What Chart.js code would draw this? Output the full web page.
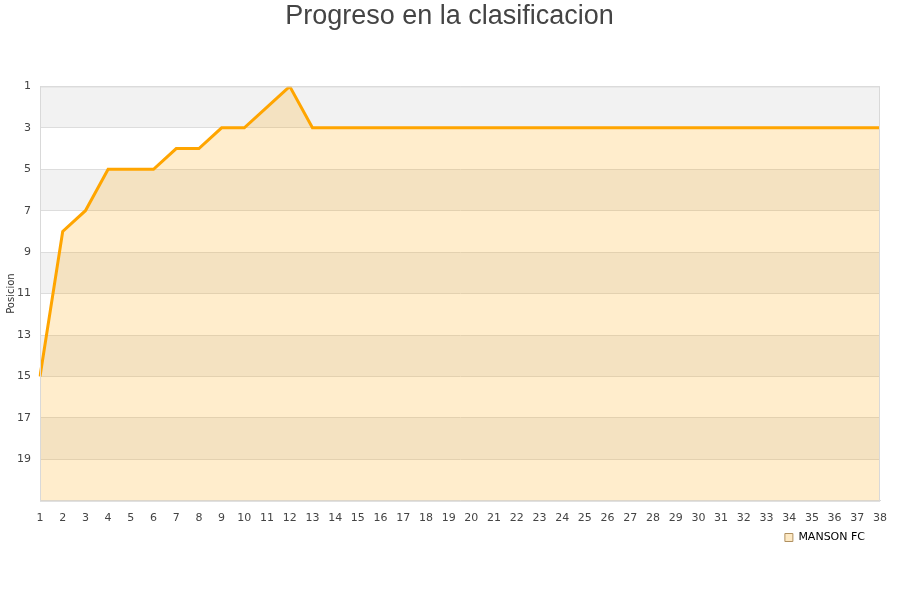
<!DOCTYPE html>
<html>
<head>
<meta charset="utf-8">
<script src="https://cdn.jsdelivr.net/npm/chart.js@4"></script>
<style>
  html, body { margin: 0; padding: 0; background: #fff; }
  #wrap { width: 900px; height: 600px; }
</style>
</head>
<body>
<div id="wrap"><canvas id="progressChart" width="900" height="600"></canvas></div>
<script>
const jornadas = ['1','2','3','4','5','6','7','8','9','10','11','12','13','14','15','16','17','18','19','20',
    '21','22','23','24','25','26','27','28','29','30','31','32','33','34','35','36','37','38'];
const posiciones = [15, 8, 7, 5, 5, 5, 4, 4, 3, 3, 2, 1, 3, 3, 3, 3, 3, 3, 3, 3,
    3, 3, 3, 3, 3, 3, 3, 3, 3, 3, 3, 3, 3, 3, 3, 3, 3, 3];
const equipo = 'MANSON FC';

// alternating gray / white bands behind the plot, plus the light border
const bandsPlugin = {
    id: 'bands',
    afterLayout: function (chart) {
        // centre the title on the whole canvas and pull the legend in a bit
        chart.titleBlock.right = chart.width - 6;
        chart.legend.right -= 11;
    },
    beforeDraw: function (chart) {
        const ctx = chart.ctx;
        const area = chart.chartArea;
        const y = chart.scales.y;
        ctx.save();
        for (let v = 1; v < 21; v += 2) {
            const y1 = y.getPixelForValue(v);
            const y2 = y.getPixelForValue(v + 2);
            ctx.fillStyle = ((v - 1) / 2) % 2 === 0 ? '#f2f2f2' : '#ffffff';
            ctx.fillRect(area.left, y1, area.right - area.left, y2 - y1);
        }
        ctx.restore();
    },
    afterDraw: function (chart) {
        const ctx = chart.ctx;
        const area = chart.chartArea;
        ctx.save();
        ctx.strokeStyle = '#d9d9d9';
        ctx.lineWidth = 1;
        ctx.strokeRect(area.left + 0.5, area.top + 0.5, area.right - area.left - 1, area.bottom - area.top);
        ctx.restore();
    }
};

const ctx = document.getElementById('progressChart').getContext('2d');
new Chart(ctx, {
    type: 'line',
    data: {
        labels: jornadas,
        datasets: [{
            label: equipo,
            data: posiciones,
            borderColor: '#ffa500',
            backgroundColor: 'rgba(255, 165, 0, 0.2)',
            borderWidth: 3,
            pointRadius: 0,
            tension: 0,
            fill: 'start'
        }]
    },
    options: {
        responsive: false,
        animation: false,
        layout: { padding: { left: 5, right: 20, top: 0, bottom: 47 } },
        plugins: {
            title: {
                display: true,
                text: 'Progreso en la clasificacion',
                color: '#444',
                font: { family: 'Liberation Sans, Arial', size: 27, weight: 'normal' },
                padding: { top: 0, bottom: 54 }
            },
            legend: {
                position: 'bottom',
                align: 'end',
                labels: {
                    color: '#111',
                    boxWidth: 8,
                    boxHeight: 8,
                    padding: 4,
                    font: { family: 'DejaVu Sans', size: 11 },
                    generateLabels: function (chart) {
                        return [{
                            text: equipo,
                            fillStyle: '#fde9c4',
                            strokeStyle: '#b09060',
                            lineWidth: 1,
                            datasetIndex: 0
                        }];
                    }
                }
            },
            tooltip: { enabled: false }
        },
        scales: {
            x: {
                offset: false,
                grid: { display: false },
                border: { color: '#d9d9d9' },
                ticks: {
                    color: '#444',
                    autoSkip: false,
                    maxRotation: 0,
                    font: { family: 'DejaVu Sans', size: 11 }
                }
            },
            y: {
                reverse: true,
                min: 1,
                max: 21,
                afterFit: function (scale) {
                    scale.width = 35;
                },
                title: {
                    display: true,
                    text: 'Posicion',
                    color: '#333',
                    font: { family: 'DejaVu Sans', size: 10 },
                    padding: 0
                },
                grid: { color: '#dddddd', drawTicks: false },
                border: { color: '#d9d9d9' },
                ticks: {
                    stepSize: 2,
                    color: '#444',
                    padding: 9,
                    font: { family: 'DejaVu Sans', size: 11 },
                    callback: function (value) {
                        return value === 21 ? '' : value;
                    }
                }
            }
        }
    },
    plugins: [bandsPlugin]
});
</script>
</body>
</html>
